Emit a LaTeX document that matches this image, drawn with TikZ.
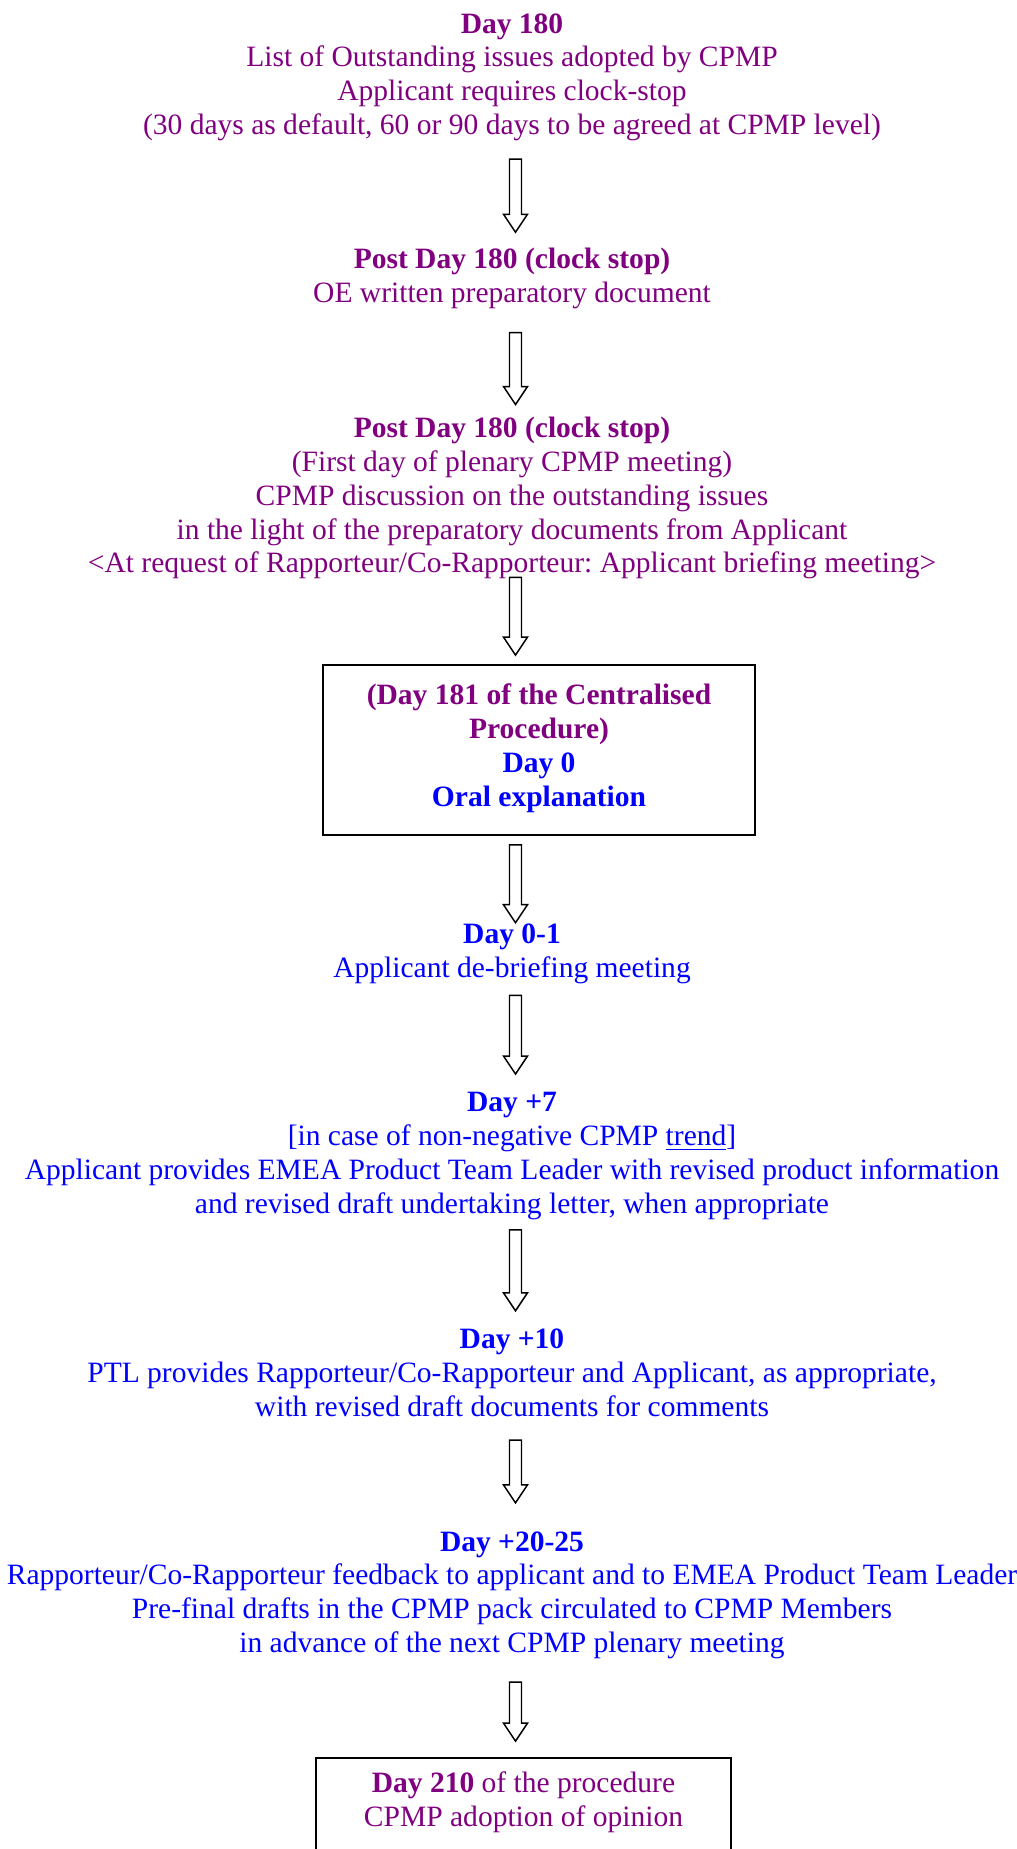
\documentclass[tikz,border=0pt]{standalone}
\usepackage{fontspec}
\setmainfont{Liberation Serif}
\usetikzlibrary{calc}
\frenchspacing

\definecolor{cpmp}{RGB}{128,0,128}
\definecolor{oe}{RGB}{0,0,255}
\def\px{0.4065pt}

\begin{document}
\begin{tikzpicture}[x=\px,y=-\px,font=\fontsize{12}{13.75}\selectfont]
    \tikzstyle{stage}=[align=center,inner sep=0pt,execute at begin node=\strut,execute at end node=\strut]
    \tikzstyle{daybox}=[stage,draw=black,line width=0.7pt]
    % hollow block arrow: #1 gap below the start, #2 gap above the target
    \tikzset{hollow/.style 2 args={draw=black,line width=0.6pt,fill=white,to path={
        let \p1=(\tikztostart), \p2=(\tikztotarget) in
        ({\x1-6*\px},{\y1-#1*\px}) -- ({\x1-6*\px},{\y2+(#2+18)*\px}) -- ({\x1-12*\px},{\y2+(#2+18)*\px})
        -- ({\x1},{\y2+#2*\px}) -- ({\x1+12*\px},{\y2+(#2+18)*\px}) -- ({\x1+6*\px},{\y2+(#2+18)*\px})
        -- ({\x1+6*\px},{\y1-#1*\px}) -- cycle}}}

    \useasboundingbox (0,0) rectangle (1016,1849);
    \coordinate (spine) at (515.5,0);

    \node[stage,text=cpmp] (day180) at (512,79) {\textbf{Day 180}\\List of Outstanding issues adopted by CPMP\\Applicant requires clock-stop\\(30 days as default, 60 or 90 days to be agreed at CPMP level)};
    \node[stage,text=cpmp] (post1) at (512,280) {\textbf{Post Day 180 (clock stop)}\\OE written preparatory document};
    \node[stage,text=cpmp] (post2) at (512,500) {\textbf{Post Day 180 (clock stop)}\\(First day of plenary CPMP meeting)\\CPMP discussion on the outstanding issues\\in the light of the preparatory documents from Applicant\\<At request of Rapporteur/Co-Rapporteur: Applicant briefing meeting>};
    \node[daybox,minimum width=175.6pt,minimum height=69.1pt] (day0) at (539,750) {\textcolor{cpmp}{\textbf{(Day 181 of the Centralised}}\\\textcolor{cpmp}{\textbf{Procedure)}}\\\textcolor{oe}{\textbf{Day 0}}\\\textcolor{oe}{\textbf{Oral explanation}}};
    \node[stage,text=oe] (day01) at (512,956) {\textbf{Day 0-1}\\Applicant de-briefing meeting};
    \node[stage,text=oe] (day7) at (512,1158) {\textbf{Day +7}\\{[}in case of non-negative CPMP \underline{trend}]\\Applicant provides EMEA Product Team Leader with revised product information\\and revised draft undertaking letter, when appropriate};
    \node[stage,text=oe] (day10) at (512,1378) {\textbf{Day +10}\\PTL provides Rapporteur/Co-Rapporteur and Applicant, as appropriate,\\with revised draft documents for comments};
    \node[stage,text=oe] (day20) at (512,1597) {\textbf{Day +20-25}\\Rapporteur/Co-Rapporteur feedback to applicant and to EMEA Product Team Leader\\Pre-final drafts in the CPMP pack circulated to CPMP Members\\in advance of the next CPMP plenary meeting};
    \node[daybox,text=cpmp,minimum width=168.7pt,minimum height=37.8pt] (day210) at (523.5,1804.5) {\textbf{Day 210} of the procedure\\CPMP adoption of opinion};

    \draw[hollow={14}{15}] (day180.south -| spine) to (post1.north -| spine);
    \draw[hollow={20}{12}] (post1.south -| spine) to (post2.north -| spine);
    \draw[hollow={-6}{9}] (post2.south -| spine) to (day0.north -| spine);
    \draw[hollow={9}{1}] (day0.south -| spine) to (day01.north -| spine);
    \draw[hollow={7}{18}] (day01.south -| spine) to (day7.north -| spine);
    \draw[hollow={6}{18}] (day7.south -| spine) to (day10.north -| spine);
    \draw[hollow={13}{28}] (day10.south -| spine) to (day20.north -| spine);
    \draw[hollow={19}{16}] (day20.south -| spine) to (day210.north -| spine);
\end{tikzpicture}
\end{document}
